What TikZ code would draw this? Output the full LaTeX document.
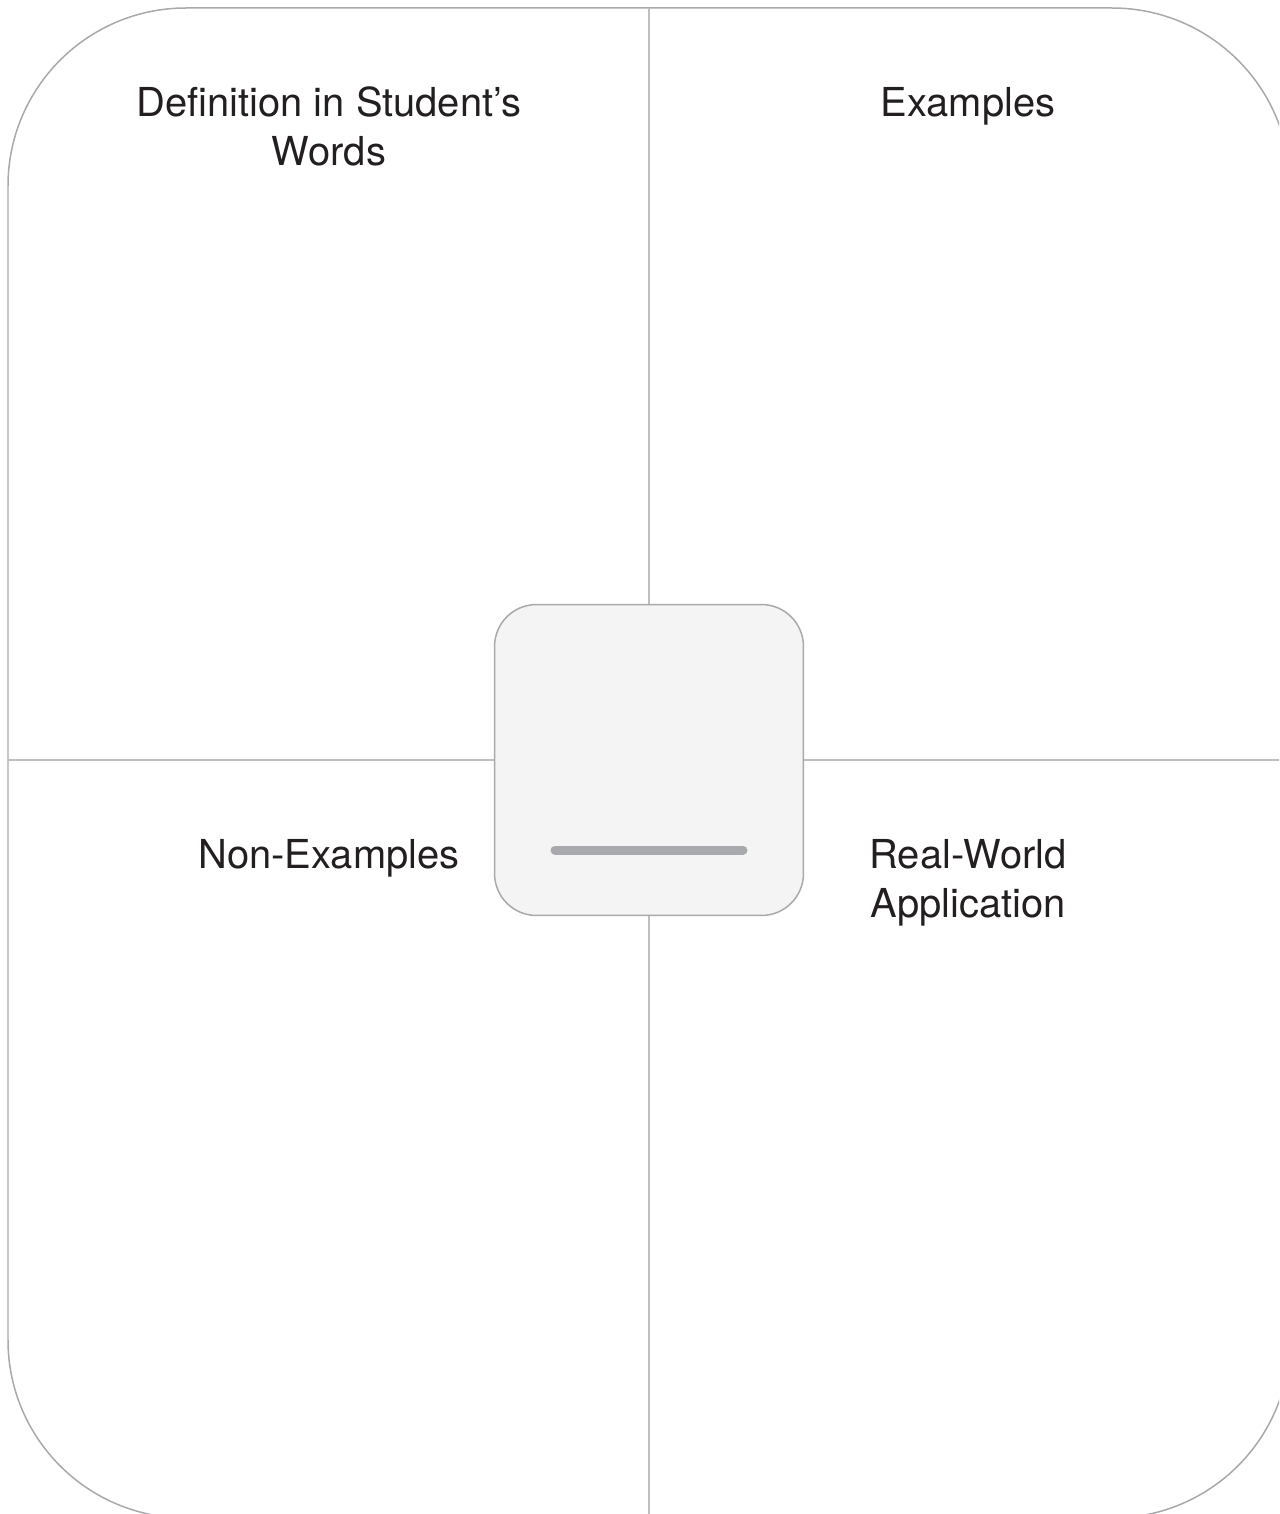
\documentclass[tikz,border=0pt]{standalone}
\usepackage{fontspec}
\setmainfont{TeX Gyre Heros}

\definecolor{framegray}{HTML}{A7A9AC}
\definecolor{linegray}{HTML}{BCBEC0}
\definecolor{boxfill}{HTML}{F4F4F4}
\definecolor{bargray}{HTML}{A7A9AC}
\definecolor{textblack}{HTML}{231F20}

\tikzset{
	quadlabel/.style={align=center, anchor=base, inner sep=0pt, text=textblack,%
		font=\fontsize{22.7}{27.5}\selectfont}
}

\begin{document}
\begin{tikzpicture} [x=0.02cm, y=-0.02cm]

		\useasboundingbox (0,0) rectangle (1279,1514);
		\clip (0,0) rectangle (1279,1514);

		\draw [framegray, line width=0.03cm, rounded corners=3.56cm] (8,8) rectangle (1290,1518);

		\draw [linegray, line width=0.03cm] (649,8) -- (649,1518);

		\draw [linegray, line width=0.03cm] (8,760) -- (1290,760);

		\node[draw=framegray, fill=boxfill, line width=0.03cm, rounded corners=0.84cm,%
		minimum width=6.18cm, minimum height=6.22cm] (term) at (649,760) {};

		\draw [bargray, line width=0.18cm, line cap=round] (555,850) -- (743,850);

		% base of a two-line label is its last line
		\node[quadlabel] (definition) at (329,165)%
		{Definition in Student’s\\Words};

		\node[quadlabel] (examples) at (968,116)%
		{Examples};

		\node[quadlabel] (nonexamples) at (329,868)%
		{Non-Examples};

		\node[quadlabel] (application) at (968,917)%
		{Real-World\\Application};
	\end{tikzpicture}
\end{document}
